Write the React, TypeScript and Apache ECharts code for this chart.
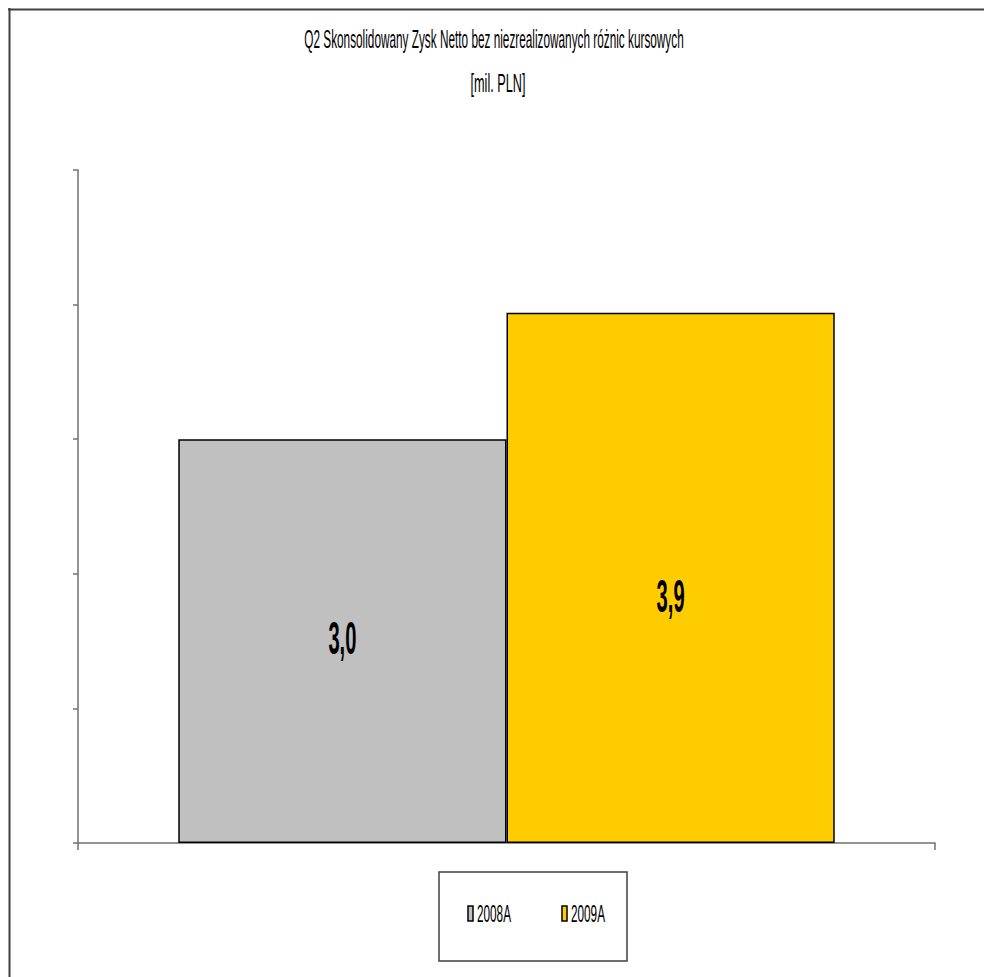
import React, { useEffect, useRef } from 'react';
import * as echarts from 'echarts';

// ---- data ----
const titleLines = ['Q2 Skonsolidowany Zysk Netto bez niezrealizowanych różnic kursowych', '[mil. PLN]'];
const categories = ['Q2'];
const seriesNames = ['2008A', '2009A'];
const seriesValues = [3.0, 3.94];
const seriesColors = ['#C0C0C0', '#FFCC00'];
const yMin = 0;
const yMax = 5;
const yInterval = 1;

// ---- style ----
const FONT_FAMILY = '"Liberation Sans", Arial, sans-serif';
const BAR_FRAC = 0.383;
const LABEL_DY = [-3, 18];

if (typeof document !== 'undefined') {
  document.body.style.margin = '0';
  document.documentElement.style.overflow = 'hidden';
}

function measure(text: string, font: string): number {
  const c = document.createElement('canvas').getContext('2d');
  if (!c) return text.length * 10;
  c.font = font;
  return c.measureText(text).width;
}

export default function App() {
  const ref = useRef<HTMLDivElement>(null);
  useEffect(() => {
    if (!ref.current) return;
    const chart = echarts.init(ref.current, undefined, { renderer: 'svg' });

    const titleFont = `25px ${FONT_FAMILY}`;
    const legendFont = `23px ${FONT_FAMILY}`;
    const labelFont = `bold 47px ${FONT_FAMILY}`;
    const t1Scale = 380 / measure(titleLines[0], titleFont);
    const t2Scale = 55 / measure(titleLines[1], titleFont);
    const legScale = 34 / measure(seriesNames[0], legendFont);
    const labScale = 28 / measure('3,0', labelFont);

    const txt = (text: string, x: number, y: number, font: string, scaleX: number, align: string) => ({
      type: 'text',
      x,
      y,
      scaleX,
      z: 20,
      style: {
        text,
        font,
        fill: '#000',
        align,
        textAlign: align,
        verticalAlign: 'middle',
        textVerticalAlign: 'middle',
      },
    });

    const legendX = [468, 562];
    const graphic: any[] = [
      { type: 'line', shape: { x1: 8, y1: 9.5, x2: 984, y2: 9.5 }, style: { stroke: '#404040', lineWidth: 2 } },
      { type: 'line', shape: { x1: 9.5, y1: 8, x2: 9.5, y2: 977 }, style: { stroke: '#404040', lineWidth: 2 } },
      txt(titleLines[0], 494, 39, titleFont, t1Scale, 'center'),
      txt(titleLines[1], 498, 83, titleFont, t2Scale, 'center'),
      {
        type: 'rect',
        shape: { x: 439, y: 872, width: 188, height: 89 },
        style: { fill: '#fff', stroke: '#404040', lineWidth: 1.5 },
      },
    ];
    seriesNames.forEach((name, i) => {
      graphic.push({
        type: 'rect',
        z: 20,
        shape: { x: legendX[i], y: 906, width: 5, height: 15 },
        style: { fill: seriesColors[i], stroke: '#000', lineWidth: 1.5 },
      });
      graphic.push(txt(name, legendX[i] + 9, 914, legendFont, legScale, 'left'));
    });

    const barSeries = seriesNames.map((name, i) => ({
      type: 'bar',
      name,
      data: [seriesValues[i]],
      barWidth: `${BAR_FRAC * 100}%`,
      barGap: '0%',
      itemStyle: { color: seriesColors[i], borderColor: '#000', borderWidth: 1.5 },
    }));

    chart.setOption({
      animation: false,
      backgroundColor: '#fff',
      grid: { left: 78, right: 49, top: 170, bottom: 134, containLabel: false },
      xAxis: {
        type: 'category',
        data: categories,
        boundaryGap: true,
        axisLine: { show: true, lineStyle: { color: '#707070', width: 1.5 } },
        axisTick: { show: true, length: 7, inside: false, lineStyle: { color: '#707070', width: 1.5 } },
        axisLabel: { show: false },
        splitLine: { show: false },
      },
      yAxis: {
        type: 'value',
        min: yMin,
        max: yMax,
        interval: yInterval,
        axisLine: { show: true, lineStyle: { color: '#707070', width: 1.5 } },
        axisTick: { show: true, length: 5, inside: false, lineStyle: { color: '#707070', width: 1.5 } },
        axisLabel: { show: false },
        splitLine: { show: false },
      },
      series: [
        ...barSeries,
        {
          type: 'custom',
          name: 'labels',
          z: 10,
          silent: true,
          data: seriesValues.map((v, i) => [0, v, i]),
          encode: { x: 0, y: 1 },
          renderItem: (params: any, api: any) => {
            const cat = api.value(0);
            const v = api.value(1);
            const i = api.value(2);
            const top = api.coord([cat, v]);
            const base = api.coord([cat, 0]);
            const band = api.size([1, 0])[0];
            const x = top[0] + (i === 0 ? -1 : 1) * (band * BAR_FRAC) / 2;
            const y = (top[1] + base[1]) / 2 + LABEL_DY[i];
            return {
              type: 'text',
              x,
              y,
              scaleX: labScale,
              style: {
                text: v.toFixed(1).replace('.', ','),
                font: labelFont,
                fill: '#000',
                align: 'center',
                verticalAlign: 'middle',
              },
            };
          },
        },
      ],
      graphic,
    } as any);

    return () => chart.dispose();
  }, []);

  return <div ref={ref} style={{ width: 984, height: 977 }} />;
}
